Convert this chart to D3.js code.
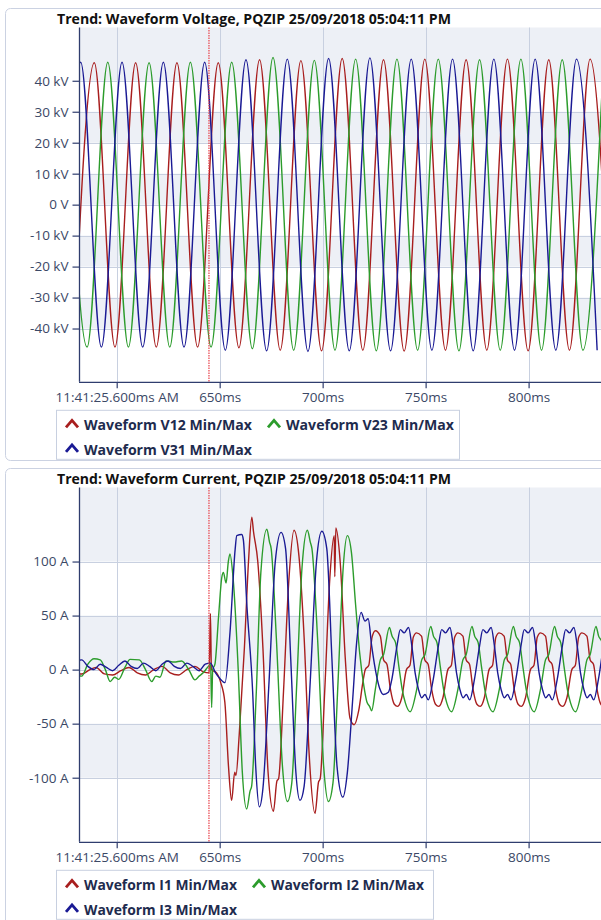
<!DOCTYPE html>
<html><head><meta charset="utf-8">
<script src="https://cdn.jsdelivr.net/npm/d3@7"></script>
<style>
body{margin:0;background:#fff;overflow:hidden;}
text{font-family:"Open Sans","Noto Sans",sans-serif;}
</style>
</head><body>
<svg id="chart" width="601" height="920"></svg>
<script>
// ---------------- DATA ----------------
const xTicks = [600, 650, 700, 750, 800];
const xTickLabels = ["11:41:25.600ms AM", "650ms", "700ms", "750ms", "800ms"];
const eventTime = 644.8;

const voltTitle = "Trend: Waveform Voltage, PQZIP 25/09/2018 05:04:11 PM";
const currTitle = "Trend: Waveform Current, PQZIP 25/09/2018 05:04:11 PM";
const voltTicks = [-40, -30, -20, -10, 0, 10, 20, 30, 40];
const voltTickLabels = ["-40 kV", "-30 kV", "-20 kV", "-10 kV", "0 V", "10 kV", "20 kV", "30 kV", "40 kV"];
const currTicks = [-100, -50, 0, 50, 100];
const currTickLabels = ["-100 A", "-50 A", "0 A", "50 A", "100 A"];
const voltNames = ["Waveform V12 Min/Max", "Waveform V23 Min/Max", "Waveform V31 Min/Max"];
const currNames = ["Waveform I1 Min/Max", "Waveform I2 Min/Max", "Waveform I3 Min/Max"];

// voltage: extreme value of each half cycle (kV), time of first extreme and half-cycle spacing (ms)
const voltHalfCycle = 10.03;
const v12Start = 579.1;
const v12Extremes = [-46, 45.8, -46, 45.8, -46, 45.8, -46, 45.8, -46.2, 46.8, -47, 46.5, -47.2, 47.2, -47, 46.8, -47.3, 47, -47, 46.8, -47, 47, -47.2, 46.8, -47, 47, -47];
const v23Start = 575.6;
const v23Extremes = [46, -46, 46, -46, 45.8, -46, 46, -46, 46, -46.5, 47.5, -47, 46.6, -47, 47, -47.2, 47, -47, 47, -47.2, 46.8, -47, 47, -47, 46.8, -47, 47];
const v31Start = 572.5;
const v31Extremes = [-46, 46, -46, 46, -46, 46, -46, 46, -47, 46.8, -47.2, 47, -47.4, 47.2, -47.2, 47.4, -47.2, 47, -47, 47, -47.2, 47, -47, 47, -47, 47, -47];

// current: [time ms, amps]
const i1 = [[579,-1],[583,-4],[587,0],[590,2],[594,-4],[598,-5],[602,-1],[606,2],[610,-3],[614,-5],[618,0],[622,3],[626,-3],[630,-5],[634,0],[638,3],[642,-2],[644.9,-3],
  [645.5,52],[646.0,0],[648.5,-3],[650.5,-12],[652.5,-30],[654.3,-90],[655.8,-121],[657.3,-95],[657.9,-98],[659.5,-60],[662,20],[664,100],[665.6,141],[666.4,128],[668.5,100],[671,20],[673.5,-95],[676.1,-131],[677.8,-103],[678.6,-101],[681,-20],[683.5,80],[686.1,129],[688.5,105],[691,30],[693.5,-80],[696.3,-133],[698,-104],[698.8,-101],[701,-20],[703.5,85],[705.6,124],[705.9,86],[706.4,131],[708.5,100],[711,10],[713.3,-45],[715.3,-51],[717.5,-38],[719.5,-12],
  [720.7,0],[722.4,4],[724,30],[725.6,36],[728,31],[729.6,9],[731.2,5],[732.9,-18],[734.8,-32],[736.4,-34],[738.4,-26],
  [740.7,0],[742.4,4],[744,30],[745.6,34],[748,31],[749.6,9],[751.2,5],[752.9,-18],[754.8,-32],[756.4,-34],[758.4,-26],
  [760.8,0],[762.5,4],[764.1,30],[765.7,34],[768.1,31],[769.7,9],[771.3,5],[773,-18],[774.9,-32],[776.5,-34],[778.5,-26],
  [780.8,0],[782.5,4],[784.1,30],[785.7,34],[788.1,31],[789.7,9],[791.3,5],[793,-18],[794.9,-32],[796.5,-34],[798.5,-26],
  [800.9,0],[802.6,4],[804.2,30],[805.8,34],[808.2,31],[809.8,9],[811.4,5],[813.1,-18],[815,-32],[816.6,-34],[818.6,-26],
  [821,0],[822.7,4],[824.3,30],[825.9,34],[828.3,31],[829.9,9],[831.5,5],[833.2,-18],[835.1,-32],[836.7,-34],[838.7,-26],[841,0]];

const i2 = [[579,-4],[583,-6],[586,5],[589,10],[592,9],[594.5,0],[596.8,-11],[599,-7],[601,-9],[604,2],[606.5,9.5],[611,9],[614,0],[617,-11],[619,-6],[621,-7],[624,8],[628,7],[631.5,8],[635,0],[638,-9.5],[640,-6],[642,-3],[644.5,3],[645.6,5],[646.1,-35],[646.6,0],[647.7,5],[649.5,50],[651,85],[651.8,90],[653.1,80],[654.2,100],[655,107],[656.5,85],[659,0],[661,-95],[663.1,-129],[664.8,-112],[665.5,-108],[667.8,-20],[670,90],[672.9,130],[674.2,118],[675,112],[677.5,30],[680.5,-90],[682.9,-122],[685,-105],[687.5,-10],[690,95],[692.6,129],[694,118],[694.8,112],[697.5,30],[700.5,-90],[702.8,-122],[705,-105],[707.5,-10],[710,95],[712,124],[714,108],[716,60],[718,15],[720,-15],[721.5,-30],[722.8,-34],[723.8,-38],
  [725.6,-18],[728,9],[729.6,14],[732.4,39],[733.7,31],[735.4,25],[737,3],[738.6,-18],[740.2,-31],[742.5,-39],
  [745.7,-18],[748.1,9],[749.7,14],[752.5,40],[753.8,31],[755.5,25],[757.1,3],[758.7,-18],[760.3,-31],[762.6,-39],
  [765.7,-18],[768.1,9],[769.7,14],[772.5,40],[773.8,31],[775.5,25],[777.1,3],[778.7,-18],[780.3,-31],[782.7,-39],
  [785.8,-18],[788.2,9],[789.8,14],[792.6,40],[793.9,31],[795.6,25],[797.2,3],[798.8,-18],[800.4,-31],[802.7,-39],
  [805.8,-18],[808.2,9],[809.8,14],[812.6,40],[813.9,31],[815.6,25],[817.2,3],[818.8,-18],[820.4,-31],[822.8,-39],
  [825.9,-18],[828.3,9],[829.9,14],[832.7,40],[834,31],[835.7,25],[837.3,3],[838.9,-18],[840.5,-31],[842.8,-39]];

const i3 = [[579,4],[581,8],[583,9],[586,3],[589,0],[592,5],[595,2],[598,-1],[601,4],[604,8],[607,3],[610,1],[613,6],[616,3],[619,-1],[622,5],[625,8],[628,3],[631,1],[634,6],[637,3],[640,-1],[643,5],[645.5,6],[648,-3],[650,-8],[652.6,-12],[655,34],[657.5,111],[658.3,124],[660.7,125],[661.5,120],[663.1,63],[666,-20],[667.5,-90],[669.3,-127],[671,-110],[674,-10],[677,100],[679.8,127],[682,112],[684.5,10],[687,-95],[689,-121],[691,-108],[694,-10],[697,100],[699.6,128],[702,112],[704.5,10],[707,-90],[709.8,-118],[712,-95],[714.5,-30],[716.5,25],[718.7,53],[720.5,45],[722.1,47],[723.8,22],[726.2,-6],[727.8,-18],[729.5,-23],[731.9,-21],
  [733.6,-9],[736.1,22],[737.7,37],[739.6,34],[741.7,39],[743.3,22],[744.9,-3],[746.5,-18],[748.1,-26],[749.7,-23],[751.3,-28],
  [753.7,-9],[756.2,22],[757.8,37],[759.7,34],[761.8,39],[763.4,22],[765,-3],[766.6,-18],[768.2,-26],[769.8,-23],[771.4,-28],
  [773.7,-9],[776.2,22],[777.8,37],[779.7,34],[781.8,39],[783.4,22],[785,-3],[786.6,-18],[788.2,-26],[789.8,-23],[791.4,-28],
  [793.8,-9],[796.3,22],[797.9,37],[799.8,34],[801.9,39],[803.5,22],[805.1,-3],[806.7,-18],[808.3,-26],[809.9,-23],[811.5,-28],
  [813.9,-9],[816.4,22],[818,37],[819.9,34],[822,39],[823.6,22],[825.2,-3],[826.8,-18],[828.4,-26],[830,-23],[831.6,-28],
  [833.9,-9],[836.4,22],[838,37],[839.9,34],[842,39]];

// ---------------- STYLE ----------------
const seriesColors = ["#a81e1e", "#2c9c2c", "#1a1a94"];
const bandFill = "#edf0f6";
const gridColor = "#c8d0e0";
const axisColor = "#2f3d6e";
const labelColor = "#3b4866";
const textDark = "#1e2b4e";

const svg = d3.select("#chart");
const x = d3.scaleLinear().domain([600, 800]).range([116.7, 528.6]);
const plotLeft = 79, plotRight = 612;

function toPoints(start, extremes) {
  return extremes.map((v, k) => [start + k * voltHalfCycle, v]);
}

function drawPanel(cfg, idx) {
  const g = svg.append("g");
  const top = cfg.top;
  const plotTop = top + 19.5, plotBottom = top + 373.8;
  const y = d3.scaleLinear().domain(cfg.yDomain).range([plotBottom, plotTop]);

  g.append("rect").attr("x", 5.5).attr("y", top + 0.5).attr("width", 640).attr("height", cfg.panelH)
    .attr("rx", 5).attr("fill", "#fff").attr("stroke", "#cbd2e2");

  g.append("text").attr("x", 57).attr("y", top + 15.5)
    .attr("font-size", 14).attr("font-weight", 700).attr("fill", "#111")
    .attr("textLength", 394).attr("lengthAdjust", "spacingAndGlyphs").text(cfg.title);

  const step = cfg.ticks[1] - cfg.ticks[0];
  const edges = [cfg.yDomain[0], ...cfg.ticks, cfg.yDomain[1]];
  for (let k = 0; k < edges.length - 1; k++) {
    const lo = edges[k], hi = edges[k + 1];
    const base = cfg.ticks.includes(lo) ? lo : hi - step;
    if (Math.round(base / step) % 2 === 0) {
      g.append("rect").attr("x", plotLeft).attr("width", plotRight - plotLeft)
        .attr("y", y(hi)).attr("height", y(lo) - y(hi)).attr("fill", bandFill);
    }
  }
  g.selectAll(".hg").data(cfg.ticks).enter().append("line")
    .attr("x1", plotLeft).attr("x2", plotRight)
    .attr("y1", d => Math.round(y(d)) + 0.5).attr("y2", d => Math.round(y(d)) + 0.5)
    .attr("stroke", gridColor);
  g.selectAll(".vg").data(xTicks).enter().append("line")
    .attr("y1", plotTop).attr("y2", plotBottom)
    .attr("x1", d => Math.round(x(d)) + 0.5).attr("x2", d => Math.round(x(d)) + 0.5)
    .attr("stroke", gridColor);

  const clipId = "clip" + idx;
  svg.append("clipPath").attr("id", clipId).append("rect")
    .attr("x", plotLeft).attr("y", plotTop).attr("width", plotRight - plotLeft).attr("height", plotBottom - plotTop);

  const line = d3.line().x(d => x(d[0])).y(d => y(d[1])).curve(d3.curveMonotoneX);
  const sg = g.append("g").attr("clip-path", `url(#${clipId})`);
  cfg.series.forEach((s, k) => {
    sg.append("path").attr("d", line(s)).attr("fill", "none")
      .attr("stroke", seriesColors[k]).attr("stroke-width", 1.4).attr("stroke-linejoin", "round");
  });

  g.append("line").attr("x1", x(eventTime)).attr("x2", x(eventTime))
    .attr("y1", plotTop).attr("y2", plotBottom)
    .attr("stroke", "#e8414a").attr("stroke-width", 1.2).attr("stroke-dasharray", "1.5,1");

  const yAxis = d3.axisLeft(y).tickValues(cfg.ticks).tickFormat((d, i) => cfg.tickLabels[i]).tickSize(7).tickPadding(4);
  const ya = g.append("g").attr("transform", `translate(${plotLeft + 0.5},0)`).call(yAxis);
  const xAxis = d3.axisBottom(x).tickValues(xTicks).tickFormat((d, i) => xTickLabels[i]).tickSize(6).tickPadding(4);
  const xa = g.append("g").attr("transform", `translate(0,${plotBottom + 0.5})`).call(xAxis);
  [ya, xa].forEach(a => {
    a.attr("font-size", null).attr("font-family", null);
    a.select(".domain").attr("stroke", axisColor).attr("stroke-width", 1.3);
    a.selectAll(".tick line").attr("stroke", axisColor).attr("stroke-width", 1.2);
    a.selectAll("text").attr("fill", labelColor).style("font-size", "13.5px")
      .style("font-family", '"Open Sans","Noto Sans",sans-serif');
  });
  ya.select(".domain").attr("d", `M0,${plotTop}V${plotBottom}`);
  xa.select(".domain").attr("d", `M${plotLeft},0H${plotRight}`);

  const lt = plotBottom + 28.5;
  g.append("rect").attr("x", 56.5).attr("y", lt).attr("width", cfg.legendW).attr("height", 49)
    .attr("fill", "#fff").attr("stroke", "#c8d0e0");
  const pos = [[66, lt + 18], [cfg.col2, lt + 18], [66, lt + 42.5]];
  cfg.names.forEach((nm, k) => {
    const [px, py] = pos[k];
    g.append("path").attr("d", `M${px},${py - 1}L${px + 6},${py - 8}L${px + 12},${py - 1}`)
      .attr("fill", "none").attr("stroke", seriesColors[k]).attr("stroke-width", 2.8);
    g.append("text").attr("x", px + 18).attr("y", py + 2).attr("font-size", 14)
      .attr("font-weight", 700).attr("fill", textDark)
      .attr("textLength", cfg.nameW).attr("lengthAdjust", "spacingAndGlyphs").text(nm);
  });
}

drawPanel({
  top: 8, panelH: 452, title: voltTitle, yDomain: [-57.2, 57.2],
  ticks: voltTicks, tickLabels: voltTickLabels, names: voltNames,
  legendW: 403, col2: 268, nameW: 168,
  series: [toPoints(v12Start, v12Extremes), toPoints(v23Start, v23Extremes), toPoints(v31Start, v31Extremes)]
}, 0);

drawPanel({
  top: 468, panelH: 470, title: currTitle, yDomain: [-159.3, 168.5],
  ticks: currTicks, tickLabels: currTickLabels, names: currNames,
  legendW: 377, col2: 253, nameW: 153,
  series: [i1, i2, i3]
}, 1);
</script>
</body></html>
